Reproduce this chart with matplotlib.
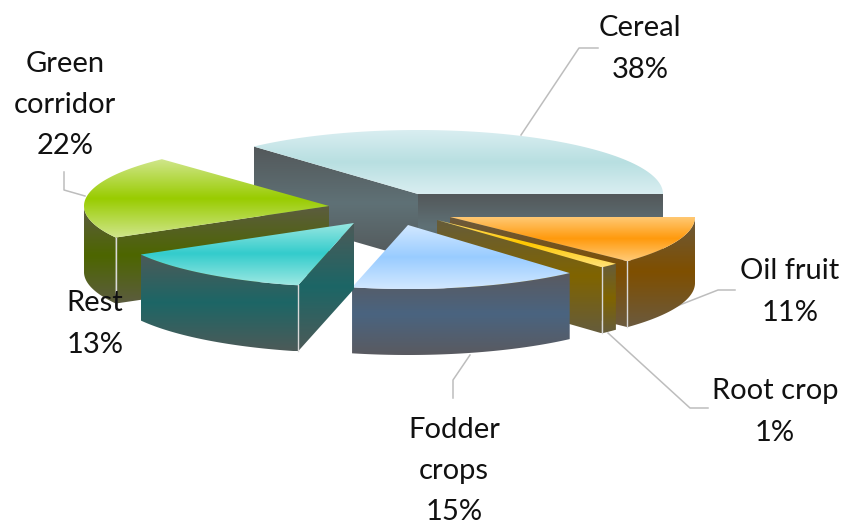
import numpy as np
import matplotlib
matplotlib.use('Agg')
import matplotlib.pyplot as plt
from matplotlib.colors import LinearSegmentedColormap
from matplotlib.patches import Polygon

plt.rcParams['font.family'] = ['Lato', 'DejaVu Sans']

# data
names = ['Cereal', 'Oil fruit', 'Root crop', 'Fodder\ncrops', 'Rest', 'Green\ncorridor']
shares = [38, 11, 1, 15, 13, 22]

# styles, in slice order
apex_x = [418, 450, 437, 408, 354, 329]
apex_y = [194, 217, 220, 225, 223, 206]
nudge_ccw = [-4.7, 0, -3.5, -5.5, -6, -6.5]
nudge_cw = [0, -4, -4.5, -6, -6.5, -3.8]
top_edge = ['#d9eef1', '#ffcb78', '#ffe27a', '#d2e8ff', '#9ce8e2', '#d0e68c']
top_mid = ['#b8dfe1', '#ff9a0d', '#ffc800', '#99ccff', '#33cccc', '#99cc00']
wall_edge = ['#53585a', '#6b5a3e', '#655c3c', '#5a5a60', '#4d5a58', '#5c5c40']
wall_mid = ['#5f7176', '#7f4f00', '#806400', '#4a6480', '#1c6666', '#4d6600']
label_x = [640, 790, 775, 454, 95, 65]
label_y = [48, 291, 411, 470, 323, 104]
leaders = [
    [(521, 135), (579, 48), (598, 48)],
    [(672, 308), (718, 290), (735, 290)],
    [(608, 333), (690, 408), (708, 408)],
    [(470, 355), (453, 380), (453, 398)],
    [],
    [(85, 196), (64, 190), (64, 172)],
]
draw_order = [0, 1, 2, 3, 5, 4]

RX, RY = 245, 64
DEPTH = 66
START = 136.8

fig = plt.figure(figsize=(8.42, 5.24), dpi=100)
ax = fig.add_axes([0, 0, 1, 1])
z = [2]


def grad_fill(xs, ys, c_edge, c_mid):
    """polygon filled with a vertical edge-mid-edge gradient"""
    z[0] += 1
    cmap = LinearSegmentedColormap.from_list('g', [c_edge, c_mid, c_edge])
    im = ax.imshow(np.linspace(0, 1, 256).reshape(-1, 1), cmap=cmap, aspect='auto',
                   extent=[min(xs), max(xs), max(ys), min(ys)], zorder=z[0],
                   interpolation='bilinear')
    patch = Polygon(np.column_stack([xs, ys]), closed=True, transform=ax.transData,
                    facecolor='none', edgecolor='none')
    ax.add_patch(patch)
    im.set_clip_path(patch)


def rim(cx, cy, t):
    r = np.radians(t)
    return cx + RX * np.cos(r), cy - RY * np.sin(r)


def radial_wall(cx, cy, t, i):
    x, y = rim(cx, cy, t)
    grad_fill([cx, x, x, cx], [cy, y, y + DEPTH, cy + DEPTH], wall_edge[i], wall_mid[i])


bounds = START - np.r_[0, np.cumsum(shares)] * 3.6

for i in draw_order:
    t1 = bounds[i] + nudge_ccw[i]  # counter-clockwise end
    t2 = bounds[i + 1] + nudge_cw[i]  # clockwise end
    cx, cy = apex_x[i], apex_y[i]

    # cut faces that look towards the viewer
    c1_vis = np.cos(np.radians(t1)) < 0
    c2_vis = np.cos(np.radians(t2)) > 0
    if c2_vis:
        radial_wall(cx, cy, t2, i)
    if c1_vis:
        radial_wall(cx, cy, t1, i)

    # outer wall, front part of the rim only
    ts = np.linspace(t2, t1, 120)
    ts = ts[np.sin(np.radians(ts)) <= 0]
    if len(ts) > 1:
        px, py = rim(cx, cy, ts)
        grad_fill(np.r_[px, px[::-1]], np.r_[py, py[::-1] + DEPTH], wall_edge[i], wall_mid[i])

    # light corner lines
    z[0] += 1
    for t, vis in [(t1, c1_vis), (t2, c2_vis)]:
        if vis and np.sin(np.radians(t)) < 0:
            x, y = rim(cx, cy, t)
            ax.plot([x, x], [y, y + DEPTH], color='#d8d8d8', lw=1, zorder=z[0])

    # top face
    px, py = rim(cx, cy, np.linspace(t1, t2, 200))
    grad_fill(np.r_[cx, px], np.r_[cy, py], top_edge[i], top_mid[i])

for pts in leaders:
    if pts:
        ax.plot([p[0] for p in pts], [p[1] for p in pts], color='#bdbdbd', lw=1.1, zorder=1)

for i, name in enumerate(names):
    ax.text(label_x[i], label_y[i] + 1, f'{name}\n{shares[i]}%', ha='center', va='center',
            fontsize=21, color='#111111', linespacing=1.72, zorder=100)

ax.set_xlim(0, 842)
ax.set_ylim(524, 0)
ax.axis('off')
fig.savefig('out.png', dpi=100)
